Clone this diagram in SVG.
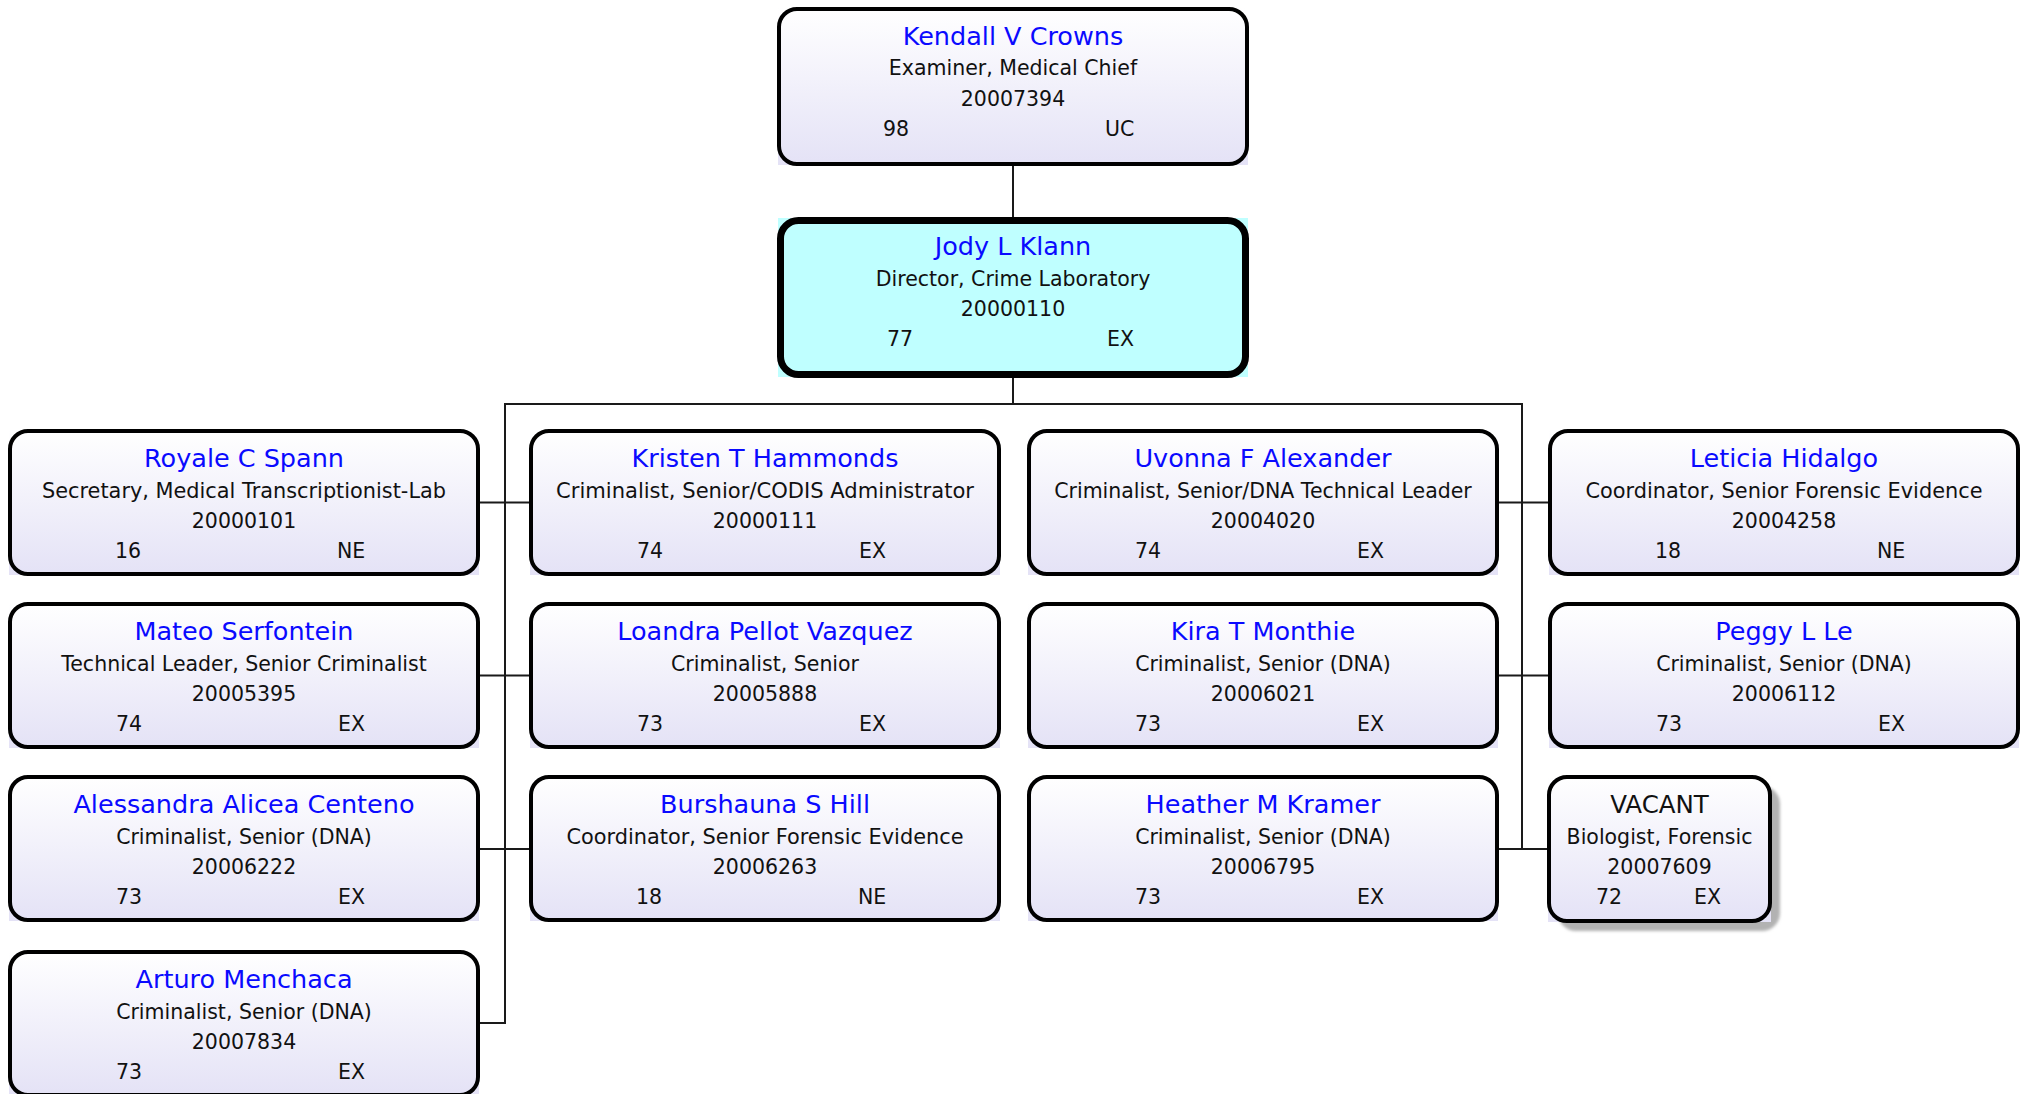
<svg xmlns="http://www.w3.org/2000/svg" xmlns:xlink="http://www.w3.org/1999/xlink" width="2023" height="1094" viewBox="0 0 2023 1094">
<style>
  text { font-family: "DejaVu Sans", Verdana, sans-serif; fill: #111; }
  .nm { font-size: 25.5px; fill: #0a0aff; text-anchor: middle; }
  .vac { font-size: 24.5px; fill: #111; text-anchor: middle; }
  .t { font-size: 20.5px; text-anchor: middle; }
  .s { font-size: 20.5px; text-anchor: start; }
  .border { fill: none; stroke: #000; stroke-width: 4; }
  .fillsq { fill: url(#grad); }
  .conn line { stroke: #1a1a1a; stroke-width: 2; }
</style>
<defs>
  <linearGradient id="grad" x1="0" y1="0" x2="0" y2="1">
    <stop offset="0" stop-color="#ffffff"/>
    <stop offset="1" stop-color="#e4e2f6"/>
  </linearGradient>
  <filter id="blur" x="-10%" y="-10%" width="120%" height="120%">
    <feGaussianBlur stdDeviation="1.5"/>
  </filter>
  <g id="box">
    <rect class="fillsq" x="1" y="1" width="470" height="145"/>
    <rect class="border" x="2" y="2" width="468" height="143" rx="18"/>
  </g>
</defs>
<rect width="2023" height="1094" fill="#fff"/>

<g id="connectors" class="conn">
  <line x1="1013" y1="166" x2="1013" y2="217"/>
  <line x1="1013" y1="378" x2="1013" y2="404"/>
  <line x1="504" y1="404" x2="1523" y2="404"/>
  <line x1="505" y1="403" x2="505" y2="1024"/>
  <line x1="1522" y1="403" x2="1522" y2="850"/>
  <line x1="480" y1="502.5" x2="529" y2="502.5"/>
  <line x1="480" y1="675.5" x2="529" y2="675.5"/>
  <line x1="480" y1="849" x2="529" y2="849"/>
  <line x1="480" y1="1023" x2="506" y2="1023"/>
  <line x1="1498" y1="502.5" x2="1548" y2="502.5"/>
  <line x1="1498" y1="675.5" x2="1548" y2="675.5"/>
  <line x1="1498" y1="849" x2="1548" y2="849"/>
</g>

<g id="n-crowns">
  <rect class="fillsq" x="778" y="8" width="470" height="157"/>
  <rect class="border" x="779" y="9" width="468" height="155" rx="18"/>
  <text class="nm" x="1013" y="45">Kendall V Crowns</text>
  <text class="t" x="1013" y="75">Examiner, Medical Chief</text>
  <text class="t" x="1013" y="106">20007394</text>
  <text class="s" x="883" y="136">98</text>
  <text class="s" x="1105" y="136">UC</text>
</g>

<g id="n-klann">
  <rect x="778" y="218" width="470" height="159" fill="#bfffff"/>
  <rect x="780.5" y="220.5" width="465" height="154" rx="18" fill="none" stroke="#000" stroke-width="7"/>
  <text class="nm" x="1013" y="255">Jody L Klann</text>
  <text class="t" x="1013" y="286">Director, Crime Laboratory</text>
  <text class="t" x="1013" y="316">20000110</text>
  <text class="s" x="887" y="346">77</text>
  <text class="s" x="1107" y="346">EX</text>
</g>

<g id="n-spann" transform="translate(8,429)">
  <use href="#box"/>
  <text class="nm" x="236" y="38">Royale C Spann</text>
  <text class="t" x="236" y="68.5" textLength="404" lengthAdjust="spacingAndGlyphs">Secretary, Medical Transcriptionist-Lab</text>
  <text class="t" x="236" y="99">20000101</text>
  <text class="s" x="107" y="129">16</text>
  <text class="s" x="329" y="129">NE</text>
</g>
<g id="n-hammonds" transform="translate(529,429)">
  <use href="#box"/>
  <text class="nm" x="236" y="38">Kristen T Hammonds</text>
  <text class="t" x="236" y="68.5" textLength="418" lengthAdjust="spacingAndGlyphs">Criminalist, Senior/CODIS Administrator</text>
  <text class="t" x="236" y="99">20000111</text>
  <text class="s" x="108" y="129">74</text>
  <text class="s" x="330" y="129">EX</text>
</g>
<g id="n-alexander" transform="translate(1027,429)">
  <use href="#box"/>
  <text class="nm" x="236" y="38">Uvonna F Alexander</text>
  <text class="t" x="236" y="68.5">Criminalist, Senior/DNA Technical Leader</text>
  <text class="t" x="236" y="99">20004020</text>
  <text class="s" x="108" y="129">74</text>
  <text class="s" x="330" y="129">EX</text>
</g>
<g id="n-hidalgo" transform="translate(1548,429)">
  <use href="#box"/>
  <text class="nm" x="236" y="38">Leticia Hidalgo</text>
  <text class="t" x="236" y="68.5" textLength="397" lengthAdjust="spacingAndGlyphs">Coordinator, Senior Forensic Evidence</text>
  <text class="t" x="236" y="99">20004258</text>
  <text class="s" x="107" y="129">18</text>
  <text class="s" x="329" y="129">NE</text>
</g>

<g id="n-serfontein" transform="translate(8,602)">
  <use href="#box"/>
  <text class="nm" x="236" y="38">Mateo Serfontein</text>
  <text class="t" x="236" y="68.5">Technical Leader, Senior Criminalist</text>
  <text class="t" x="236" y="99">20005395</text>
  <text class="s" x="108" y="129">74</text>
  <text class="s" x="330" y="129">EX</text>
</g>
<g id="n-vazquez" transform="translate(529,602)">
  <use href="#box"/>
  <text class="nm" x="236" y="38">Loandra Pellot Vazquez</text>
  <text class="t" x="236" y="68.5">Criminalist, Senior</text>
  <text class="t" x="236" y="99">20005888</text>
  <text class="s" x="108" y="129">73</text>
  <text class="s" x="330" y="129">EX</text>
</g>
<g id="n-monthie" transform="translate(1027,602)">
  <use href="#box"/>
  <text class="nm" x="236" y="38">Kira T Monthie</text>
  <text class="t" x="236" y="68.5">Criminalist, Senior (DNA)</text>
  <text class="t" x="236" y="99">20006021</text>
  <text class="s" x="108" y="129">73</text>
  <text class="s" x="330" y="129">EX</text>
</g>
<g id="n-le" transform="translate(1548,602)">
  <use href="#box"/>
  <text class="nm" x="236" y="38">Peggy L Le</text>
  <text class="t" x="236" y="68.5">Criminalist, Senior (DNA)</text>
  <text class="t" x="236" y="99">20006112</text>
  <text class="s" x="108" y="129">73</text>
  <text class="s" x="330" y="129">EX</text>
</g>

<g id="n-centeno" transform="translate(8,775)">
  <use href="#box"/>
  <text class="nm" x="236" y="38">Alessandra Alicea Centeno</text>
  <text class="t" x="236" y="68.5">Criminalist, Senior (DNA)</text>
  <text class="t" x="236" y="99">20006222</text>
  <text class="s" x="108" y="129">73</text>
  <text class="s" x="330" y="129">EX</text>
</g>
<g id="n-hill" transform="translate(529,775)">
  <use href="#box"/>
  <text class="nm" x="236" y="38">Burshauna S Hill</text>
  <text class="t" x="236" y="68.5" textLength="397" lengthAdjust="spacingAndGlyphs">Coordinator, Senior Forensic Evidence</text>
  <text class="t" x="236" y="99">20006263</text>
  <text class="s" x="107" y="129">18</text>
  <text class="s" x="329" y="129">NE</text>
</g>
<g id="n-kramer" transform="translate(1027,775)">
  <use href="#box"/>
  <text class="nm" x="236" y="38">Heather M Kramer</text>
  <text class="t" x="236" y="68.5">Criminalist, Senior (DNA)</text>
  <text class="t" x="236" y="99">20006795</text>
  <text class="s" x="108" y="129">73</text>
  <text class="s" x="330" y="129">EX</text>
</g>
<g id="n-vacant">
  <rect x="1558" y="786" width="222" height="145" rx="18" fill="#b2b2b2" filter="url(#blur)"/>
  <rect class="fillsq" x="1548" y="776" width="223" height="146"/>
  <rect class="border" x="1549" y="777" width="221" height="144" rx="18"/>
  <text class="vac" x="1659.5" y="813">VACANT</text>
  <text class="t" x="1659.5" y="844">Biologist, Forensic</text>
  <text class="t" x="1659.5" y="874">20007609</text>
  <text class="s" x="1596" y="904">72</text>
  <text class="s" x="1694" y="904">EX</text>
</g>

<g id="n-menchaca" transform="translate(8,950)">
  <use href="#box"/>
  <text class="nm" x="236" y="38">Arturo Menchaca</text>
  <text class="t" x="236" y="68.5">Criminalist, Senior (DNA)</text>
  <text class="t" x="236" y="99">20007834</text>
  <text class="s" x="108" y="129">73</text>
  <text class="s" x="330" y="129">EX</text>
</g>
</svg>
